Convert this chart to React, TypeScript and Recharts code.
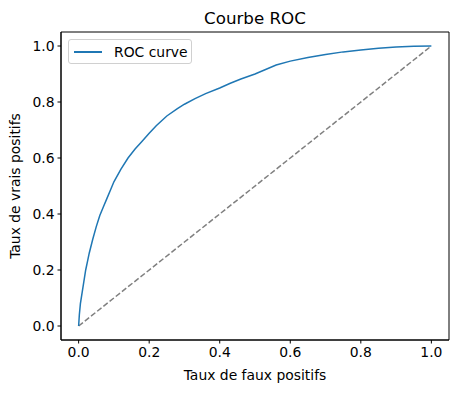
import React from "react";
import {
  Line,
  LineChart,
  ReferenceArea,
  XAxis,
  YAxis,
} from "recharts";

// points
const FPR = [
  0, 0.002, 0.005, 0.01, 0.015, 0.02, 0.025, 0.03, 0.04, 0.05, 0.06, 0.07,
  0.08, 0.09, 0.1, 0.12, 0.14, 0.16, 0.18, 0.2, 0.22, 0.25, 0.28, 0.3, 0.33,
  0.36, 0.4, 0.43, 0.46, 0.5, 0.53, 0.56, 0.6, 0.65, 0.7, 0.75, 0.8, 0.85,
  0.9, 0.95, 1.0,
];
const TPR = [
  0, 0.04, 0.08, 0.12, 0.16, 0.2, 0.23, 0.26, 0.31, 0.355, 0.395, 0.425,
  0.455, 0.485, 0.515, 0.56, 0.6, 0.632, 0.66, 0.688, 0.715, 0.75, 0.776,
  0.792, 0.812, 0.83, 0.85, 0.867, 0.882, 0.9, 0.916, 0.932, 0.946, 0.959,
  0.97, 0.979, 0.986, 0.992, 0.996, 0.999, 1.0,
];
const DIAG_X = [0, 1];
const DIAG_Y = [0, 1];
const TICKS = [0, 0.2, 0.4, 0.6, 0.8, 1.0];

const rocData = FPR.map((x, i) => ({ x, y: TPR[i] }));
const diagData = DIAG_X.map((x, i) => ({ x, y: DIAG_Y[i] }));

const FONT = "DejaVu Sans, sans-serif";
const tickStyle = { fontSize: 13.9, fill: "#000", fontFamily: FONT };

function LegendBox() {
  return (
    <div
      style={{
        position: "absolute",
        left: 68,
        top: 39,
        width: 124,
        height: 25,
        border: "1px solid #d0d0d0",
        borderRadius: 3,
        background: "rgba(255,255,255,0.8)",
        display: "flex",
        alignItems: "center",
        fontFamily: FONT,
        fontSize: 13.9,
        color: "#000",
        boxSizing: "border-box",
      }}
    >
      <span
        style={{
          display: "inline-block",
          width: 28,
          height: 0,
          borderTop: "2px solid #1f77b4",
          marginLeft: 5,
          marginRight: 12,
        }}
      />
      ROC curve
    </div>
  );
}

export default function App() {
  return (
    <div style={{ position: "absolute", left: 0, top: 0, width: 458, height: 393, background: "#fff" }}>
      <LineChart
        width={458}
        height={393}
        margin={{ top: 32, right: 9, bottom: 0, left: 0 }}
      >
        <XAxis
          type="number"
          dataKey="x"
          domain={[-0.05, 1.05]}
          ticks={TICKS}
          tickFormatter={(v: number) => v.toFixed(1)}
          tick={tickStyle}
          tickSize={3.5}
          tickMargin={4}
          height={53}
          axisLine={{ stroke: "#000" }}
          tickLine={{ stroke: "#000" }}
          allowDataOverflow
          label={{
            value: "Taux de faux positifs",
            position: "insideBottom",
            offset: 13,
            style: { fontSize: 13.9, fill: "#000", fontFamily: FONT },
          }}
        />
        <YAxis
          type="number"
          dataKey="y"
          domain={[-0.05, 1.05]}
          ticks={TICKS}
          tickFormatter={(v: number) => v.toFixed(1)}
          tick={tickStyle}
          tickSize={3.5}
          tickMargin={3}
          width={61}
          axisLine={{ stroke: "#000" }}
          tickLine={{ stroke: "#000" }}
          allowDataOverflow
          label={{
            value: "Taux de vrais positifs",
            angle: -90,
            position: "insideLeft",
            offset: 15,
            style: { fontSize: 13.9, fill: "#000", fontFamily: FONT, textAnchor: "middle" },
          }}
        />
        <ReferenceArea
          x1={-0.05}
          x2={1.05}
          y1={-0.05}
          y2={1.05}
          fill="none"
          stroke="#000"
          strokeWidth={1}
          ifOverflow="visible"
        />
        <Line
          data={diagData}
          dataKey="y"
          stroke="#808080"
          strokeWidth={1.5}
          strokeDasharray="5.5 2.4"
          dot={false}
          legendType="none"
          isAnimationActive={false}
        />
        <Line
          data={rocData}
          dataKey="y"
          name="ROC curve"
          stroke="#1f77b4"
          strokeWidth={1.5}
          dot={false}
          isAnimationActive={false}
        />
        <text
          x={255}
          y={24}
          textAnchor="middle"
          style={{ fontSize: 16.7, fill: "#000", fontFamily: FONT }}
        >
          Courbe ROC
        </text>
      </LineChart>
      <LegendBox />
    </div>
  );
}
